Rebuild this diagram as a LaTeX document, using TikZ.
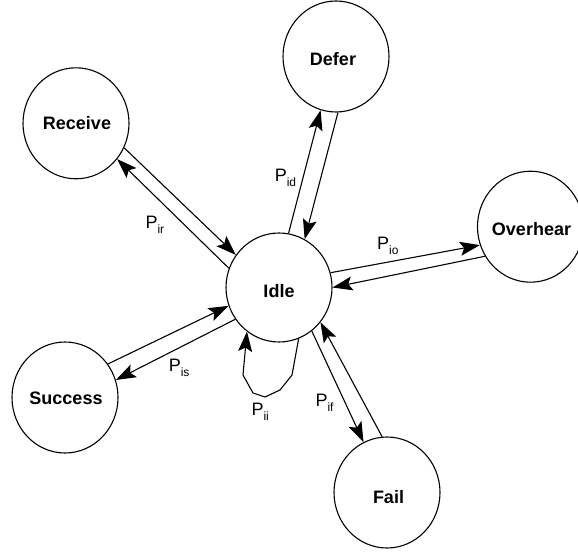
\documentclass[tikz,border=0pt]{standalone}
\usepackage{fontspec}
\setmainfont{Liberation Sans}
\usetikzlibrary{shapes.geometric,arrows.meta}

% probability label: P with a lowered subscript
\newcommand{\plab}[1]{P\raisebox{-5pt}{\fontsize{12}{12}\selectfont #1}}

\begin{document}
\begin{tikzpicture}[x=1pt,y=-1pt,
  state/.style={ellipse, draw, line width=1.1pt, minimum width=106pt,
                minimum height=111pt, inner sep=0pt},
  statename/.style={font=\fontsize{18}{18}\selectfont\bfseries, inner sep=0pt},
  trans/.style={line width=1.1pt, -{Stealth[length=20pt,width=14pt,inset=4pt]}},
  plabel/.style={font=\fontsize{18}{18}\selectfont, inner sep=0pt, anchor=base west}]

\useasboundingbox (0,0) rectangle (578,553);
\fill[white] (0,0) rectangle (578,553);
\clip (0,0) rectangle (578,553);

% states
\node[state, minimum height=109pt] (I) at (279,287.5) {};
\node[state] (R) at (76,123.3) {};
\node[state] (D) at (336,56.5) {};
\node[state] (O) at (530.5,226.7) {};
\node[state] (S) at (65,397.5) {};
\node[state] (F) at (387,492.5) {};

\node[statename] (It) at (279,291.5) {Idle};
\node[statename] (Rt) at (77,123.5) {Receive};
\node[statename] (Dt) at (333,59) {Defer};
\node[statename] (Ot) at (531.5,229) {Overhear};
\node[statename] (St) at (66,398) {Success};
\node[statename] (Ft) at (388.5,497.5) {Fail};

% Receive <-> Idle
\draw[trans] (R.-27) -- (I.143);
\draw[trans] (I.159) -- (R.-41.6);
% Defer <-> Idle
\draw[trans] (I.80.6) -- (D.-106);
\draw[trans] (D.-88) -- (I.62.8);
% Overhear <-> Idle
\draw[trans] (I.16.7) -- (O.200.5);
\draw[trans] (O.213.3) -- (I.0.8);
% Success <-> Idle
\draw[trans] (S.38.3) -- (I.200.5);
\draw[trans] (I.216.8) -- (S.19.5);
% Fail <-> Idle
\draw[trans] (I.-53.7) -- (F.115.8);
\draw[trans] (F.95.5) -- (I.-40.4);
% Idle self loop
\draw[trans] (I.-69.5) -- (292,375) -- (280,390) -- (265,397) -- (253,393)
  -- (243,375) -- (I.-126);

% transition probabilities
\node[plabel] (pir) at (145.3,228.3) {\plab{ir}};
\node[plabel] (pid) at (274.6,181.7) {\plab{id}};
\node[plabel] (pio) at (377,250) {\plab{io}};
\node[plabel] (pis) at (168.6,371.7) {\plab{is}};
\node[plabel] (pii) at (251.3,415) {\plab{ii}};
\node[plabel] (pif) at (315.3,406.7) {\plab{if}};
\end{tikzpicture}
\end{document}
